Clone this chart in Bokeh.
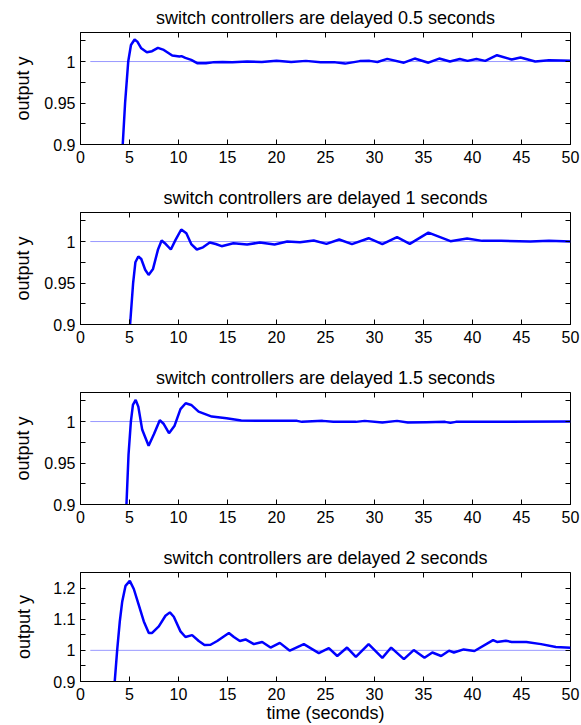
from bokeh.plotting import figure
from bokeh.layouts import column
from bokeh.models import Range1d, FixedTicker, LinearAxis, CustomJSTickFormatter
from bokeh.embed import file_html
from bokeh.resources import INLINE

# ---------------- data ----------------
titles = [
    "switch controllers are delayed 0.5 seconds",
    "switch controllers are delayed 1 seconds",
    "switch controllers are delayed 1.5 seconds",
    "switch controllers are delayed 2 seconds",
]

t1 = [4.1, 4.31, 4.55, 4.87, 5.15, 5.52, 5.8, 6.2, 6.77, 7.3, 7.9, 8.5, 9.36, 10.1, 10.3, 10.7,
      11.3, 11.9, 12.8, 13.5, 14.5, 15.5, 17, 18.5, 20, 21.5, 23, 24.5, 26, 27, 28.5, 29.5, 30.3,
      31.3, 33.0, 34.1, 35.5, 36.6, 37.7, 38.7, 39.5, 40.4, 41.3, 42.5, 44.0, 44.9, 46.4, 47.8, 49, 50]
y1 = [0.86, 0.9, 0.95, 1.0, 1.02, 1.0265, 1.024, 1.016, 1.0112, 1.0125, 1.0165, 1.014, 1.0072, 1.006,
      1.0065, 1.0044, 1.002, 0.998, 0.998, 0.999, 0.9995, 0.999, 1.0, 0.9995, 1.001, 0.9995, 1.0008,
      0.999, 0.999, 0.9975, 1.0005, 1.0008, 0.9995, 1.0032, 0.9986, 1.0036, 0.9986, 1.0036, 1.0, 1.003,
      1.0008, 1.003, 1.0008, 1.0076, 1.0024, 1.0048, 1.0, 1.0016, 1.0012, 1.0008]

t2 = [4.95, 5.06, 5.37, 5.6, 5.9, 6.2, 6.6, 6.95, 7.4, 7.9, 8.28, 8.7, 9.22, 9.7, 10.28, 10.8, 11.3,
      11.87, 12.5, 13.19, 13.8, 14.4, 15.6, 17.0, 18.3, 19.8, 21.1, 22.4, 23.8, 25.1, 26.4, 27.7, 29.4,
      30.8, 32.3, 33.6, 35.5, 37.75, 39.45, 41.0, 42.9, 45.9, 47.8, 50]
y2 = [0.88, 0.9, 0.95, 0.975, 0.982, 0.979, 0.966, 0.9598, 0.967, 0.99, 1.0012, 0.997, 0.9904, 1.002,
      1.0145, 1.01, 0.997, 0.9904, 0.993, 0.9988, 0.997, 0.9944, 0.998, 0.9964, 0.9988, 0.9964, 1.0,
      0.9992, 1.0012, 0.9972, 1.0024, 0.9968, 1.004, 0.9968, 1.0052, 0.9972, 1.0108, 1.0004, 1.0036,
      1.0008, 1.0008, 1.0, 1.0008, 1.0]

t3 = [4.6, 4.69, 4.9, 5.14, 5.35, 5.63, 5.9, 6.3, 6.95, 7.5, 8.09, 8.5, 9.03, 9.6, 10.2, 10.73, 11.3,
      12.05, 13.4, 14.9, 16.4, 18.3, 22.1, 22.6, 24.7, 25.8, 28.1, 29.0, 30.8, 32.3, 33.4, 35.3, 37.2,
      37.75, 38.3, 50]
y3 = [0.87, 0.9, 0.96, 1.0, 1.02, 1.026, 1.018, 0.99, 0.9708, 0.985, 1.0016, 0.997, 0.986, 0.995,
      1.015, 1.022, 1.02, 1.012, 1.006, 1.004, 1.0012, 1.0008, 1.0008, 0.9996, 1.0008, 0.9996, 0.9996,
      1.0008, 0.9988, 1.0008, 0.9988, 0.9992, 0.9996, 0.9984, 0.9996, 1.0]

t4 = [3.4, 3.5, 3.74, 4.01, 4.25, 4.59, 5.03, 5.44, 5.95, 6.46, 6.97, 7.31, 7.99, 8.67, 9.12, 9.52,
      10.2, 10.71, 11.39, 12.07, 12.65, 13.27, 13.95, 15.14, 15.65, 16.26, 16.84, 17.69, 18.54, 19.39,
      20.34, 21.36, 22.79, 24.32, 25.34, 26.2, 27.2, 28.1, 29.4, 30.8, 31.7, 33.0, 34.0, 35.1, 35.9,
      36.8, 37.6, 38.1, 39.1, 40.2, 42.1, 42.5, 43.4, 44.0, 45.5, 47.0, 48.5, 50]
y4 = [0.87, 0.903, 1.0, 1.093, 1.155, 1.207, 1.223, 1.197, 1.145, 1.093, 1.056, 1.056, 1.077, 1.111,
      1.122, 1.108, 1.061, 1.043, 1.049, 1.030, 1.017, 1.018, 1.030, 1.056, 1.043, 1.030, 1.035, 1.020,
      1.027, 1.009, 1.024, 0.999, 1.020, 0.991, 1.007, 0.982, 1.009, 0.979, 1.020, 0.976, 1.009, 0.972,
      1.001, 0.976, 0.993, 0.982, 0.999, 0.993, 1.003, 0.998, 1.033, 1.027, 1.031, 1.027, 1.027, 1.020,
      1.011, 1.008]

ref_t = [1, 50]
ref_y = [1, 1]

x_ticks = [0, 5, 10, 15, 20, 25, 30, 35, 40, 45, 50]
y_ticks_small = [0.9, 0.95, 1.0]
y_minor_small = [0.925, 0.975, 1.025]
y_ticks_big = [0.9, 1.0, 1.1, 1.2]
y_minor_big = [0.95, 1.05, 1.15]

FONT = "Liberation Sans"
fmt = CustomJSTickFormatter(code="return String(Math.round(tick*1000)/1000);")
blank = CustomJSTickFormatter(code="return '';")


def make(title, t, y, yr, yt, ym, last=False, std=8):
    top = 30 if last else 32
    bottom = 43 if last else 36
    p = figure(width=581, height=top + 112 + bottom,
               x_range=Range1d(0, 50), y_range=Range1d(*yr),
               output_backend="svg", toolbar_location=None,
               min_border_left=80, min_border_right=11,
               min_border_top=top, min_border_bottom=bottom,
               background_fill_color="white", border_fill_color="white")
    p.title.text = title
    p.title.align = "center"
    p.title.text_font = FONT
    p.title.text_font_size = "18px"
    p.title.text_font_style = "normal"
    p.title.text_color = "black"
    p.title.standoff = 10
    p.grid.visible = False
    p.outline_line_color = "black"
    p.outline_line_width = 1
    p.outline_line_alpha = 1

    xt = FixedTicker(ticks=x_ticks)
    ytk = FixedTicker(ticks=yt, minor_ticks=ym)

    xa = p.xaxis[0]
    xa.ticker = xt
    ya = p.yaxis[0]
    ya.ticker = ytk
    ya.formatter = fmt
    for ax in (xa, ya):
        ax.major_tick_in = 5
        ax.major_tick_out = 0
        ax.minor_tick_in = 0
        ax.minor_tick_out = 0
        ax.major_label_text_font = FONT
        ax.major_label_text_font_size = "16px"
        ax.major_label_text_color = "black"
        ax.axis_line_color = "black"
        ax.major_tick_line_color = "black"
        ax.axis_label_text_font = FONT
        ax.axis_label_text_font_size = "18px"
        ax.axis_label_text_font_style = "normal"
        ax.axis_label_text_color = "black"
    ya.minor_tick_in = 5
    ya.minor_tick_line_color = "black"
    ya.axis_label = "output y"
    ya.axis_label_standoff = std
    ya.major_label_standoff = 5
    xa.major_label_standoff = 6
    if last:
        xa.axis_label = "time (seconds)"
        xa.axis_label_standoff = 0

    # mirrored ticks on right and top
    ra = LinearAxis(ticker=ytk, formatter=blank, major_tick_in=5, major_tick_out=0,
                    minor_tick_in=5, minor_tick_out=0, major_label_standoff=0,
                    axis_line_color=None, major_label_text_font_size="1px")
    ta = LinearAxis(ticker=xt, formatter=blank, major_tick_in=5, major_tick_out=0,
                    minor_tick_in=0, minor_tick_out=0, major_label_standoff=0,
                    axis_line_color=None, major_label_text_font_size="1px")
    p.add_layout(ra, "right")
    p.add_layout(ta, "above")

    p.line(ref_t, ref_y, line_color="#8080ff", line_width=1, line_alpha=0.8)
    p.line(t, y, line_color="#0000ff", line_width=2.5)
    return p


p1 = make(titles[0], t1, y1, (0.9, 1.035), y_ticks_small, y_minor_small)
p2 = make(titles[1], t2, y2, (0.9, 1.035), y_ticks_small, y_minor_small)
p3 = make(titles[2], t3, y3, (0.9, 1.035), y_ticks_small, y_minor_small)
p4 = make(titles[3], t4, y4, (0.9, 1.25), y_ticks_big, y_minor_big, last=True, std=16)

layout = column(p1, p2, p3, p4, spacing=0)
open("out.html", "w").write(file_html(layout, INLINE))
